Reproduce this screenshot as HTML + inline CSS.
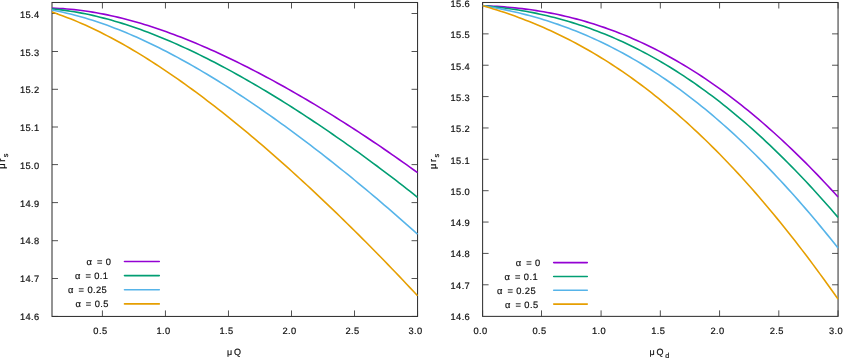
<!DOCTYPE html>
<html><head><meta charset="utf-8"><title>plot</title>
<style>
html,body{margin:0;padding:0;background:#fff;}
body{width:843px;height:358px;overflow:hidden;}
svg{display:block;will-change:transform;opacity:0.999;text-rendering:geometricPrecision;}
text{font-family:"Liberation Sans",sans-serif;fill:#111;}
.t{font-size:9.3px;letter-spacing:0.4px;stroke:#111;stroke-width:0.2px;}
.a{font-size:9px;}
.c{fill:none;stroke-width:1.6;stroke-linejoin:round;stroke-linecap:butt;}
.f{fill:none;stroke:#333;stroke-width:1.05;}
.k{fill:none;stroke:#222;stroke-width:0.78;}
</style></head><body>
<svg width="843" height="358" viewBox="0 0 843 358">

<path class="k" d="M102.42 316.45V310.45M102.42 2.50V8.50M165.45 316.45V310.45M165.45 2.50V8.50M228.47 316.45V310.45M228.47 2.50V8.50M291.50 316.45V310.45M291.50 2.50V8.50M354.52 316.45V310.45M354.52 2.50V8.50M417.55 316.45V310.45M417.55 2.50V8.50M52.00 316.45H58.00M417.55 316.45H411.55M52.00 278.50H58.00M417.55 278.50H411.55M52.00 240.70H58.00M417.55 240.70H411.55M52.00 202.60H58.00M417.55 202.60H411.55M52.00 164.60H58.00M417.55 164.60H411.55M52.00 127.00H58.00M417.55 127.00H411.55M52.00 89.30H58.00M417.55 89.30H411.55M52.00 51.50H58.00M417.55 51.50H411.55M52.00 13.50H58.00M417.55 13.50H411.55"/>
<rect class="f" x="52.00" y="2.50" width="365.55" height="313.95"/>
<path class="k" d="M482.60 316.38V310.38M482.60 2.50V8.50M541.50 316.38V310.38M541.50 2.50V8.50M601.08 316.38V310.38M601.08 2.50V8.50M660.33 316.38V310.38M660.33 2.50V8.50M719.57 316.38V310.38M719.57 2.50V8.50M778.81 316.38V310.38M778.81 2.50V8.50M838.05 316.38V310.38M838.05 2.50V8.50M482.60 284.79H488.60M838.05 284.79H832.05M482.60 253.42H488.60M838.05 253.42H832.05M482.60 222.05H488.60M838.05 222.05H832.05M482.60 190.69H488.60M838.05 190.69H832.05M482.60 159.32H488.60M838.05 159.32H832.05M482.60 127.96H488.60M838.05 127.96H832.05M482.60 96.59H488.60M838.05 96.59H832.05M482.60 65.23H488.60M838.05 65.23H832.05M482.60 33.86H488.60M838.05 33.86H832.05M482.60 2.50H488.60M838.05 2.50H832.05"/>
<rect class="f" x="482.60" y="2.50" width="355.45" height="313.88"/>
<clipPath id="c1"><rect x="52.00" y="2.50" width="366.15" height="313.95"/></clipPath>
<clipPath id="c2"><rect x="482.60" y="2.50" width="356.05" height="313.65"/></clipPath>
<g clip-path="url(#c1)">
<path class="c" stroke="#9400D3" d="M52.00 8.12L55.69 8.25L59.38 8.43L63.08 8.66L66.77 8.93L70.46 9.25L74.15 9.62L77.85 10.03L81.54 10.49L85.23 10.99L88.92 11.54L92.62 12.13L96.31 12.76L100.00 13.43L103.69 14.14L107.39 14.89L111.08 15.68L114.77 16.51L118.46 17.38L122.16 18.29L125.85 19.23L129.54 20.20L133.23 21.22L136.93 22.26L140.62 23.35L144.31 24.46L148.00 25.61L151.70 26.79L155.39 28.00L159.08 29.25L162.77 30.52L166.47 31.83L170.16 33.17L173.85 34.53L177.54 35.92L181.23 37.35L184.93 38.80L188.62 40.27L192.31 41.78L196.00 43.31L199.70 44.87L203.39 46.45L207.08 48.06L210.77 49.69L214.47 51.35L218.16 53.03L221.85 54.74L225.54 56.47L229.24 58.22L232.93 59.99L236.62 61.79L240.31 63.61L244.01 65.45L247.70 67.31L251.39 69.19L255.08 71.09L258.78 73.02L262.47 74.96L266.16 76.93L269.85 78.91L273.55 80.91L277.24 82.94L280.93 84.98L284.62 87.04L288.32 89.12L292.01 91.21L295.70 93.33L299.39 95.46L303.08 97.61L306.78 99.78L310.47 101.97L314.16 104.17L317.85 106.39L321.55 108.63L325.24 110.88L328.93 113.15L332.62 115.44L336.32 117.75L340.01 120.07L343.70 122.41L347.39 124.77L351.09 127.14L354.78 129.53L358.47 131.93L362.16 134.35L365.86 136.79L369.55 139.24L373.24 141.72L376.93 144.20L380.63 146.71L384.32 149.23L388.01 151.76L391.70 154.32L395.40 156.89L399.09 159.48L402.78 162.08L406.47 164.70L410.17 167.34L413.86 170.00L417.55 172.67"/>
<path class="c" stroke="#009E73" d="M52.00 8.92L55.69 9.27L59.38 9.67L63.08 10.12L66.77 10.62L70.46 11.17L74.15 11.76L77.85 12.40L81.54 13.09L85.23 13.82L88.92 14.59L92.62 15.40L96.31 16.26L100.00 17.16L103.69 18.10L107.39 19.08L111.08 20.10L114.77 21.16L118.46 22.26L122.16 23.39L125.85 24.56L129.54 25.77L133.23 27.02L136.93 28.30L140.62 29.61L144.31 30.96L148.00 32.34L151.70 33.75L155.39 35.20L159.08 36.68L162.77 38.18L166.47 39.72L170.16 41.29L173.85 42.89L177.54 44.52L181.23 46.18L184.93 47.87L188.62 49.58L192.31 51.32L196.00 53.09L199.70 54.88L203.39 56.71L207.08 58.55L210.77 60.42L214.47 62.32L218.16 64.24L221.85 66.18L225.54 68.15L229.24 70.14L232.93 72.16L236.62 74.20L240.31 76.26L244.01 78.34L247.70 80.44L251.39 82.57L255.08 84.71L258.78 86.88L262.47 89.07L266.16 91.27L269.85 93.50L273.55 95.75L277.24 98.01L280.93 100.30L284.62 102.61L288.32 104.93L292.01 107.27L295.70 109.63L299.39 112.01L303.08 114.41L306.78 116.83L310.47 119.26L314.16 121.71L317.85 124.18L321.55 126.67L325.24 129.17L328.93 131.69L332.62 134.23L336.32 136.79L340.01 139.36L343.70 141.95L347.39 144.55L351.09 147.18L354.78 149.82L358.47 152.47L362.16 155.15L365.86 157.84L369.55 160.54L373.24 163.27L376.93 166.01L380.63 168.77L384.32 171.54L388.01 174.33L391.70 177.14L395.40 179.97L399.09 182.81L402.78 185.67L406.47 188.55L410.17 191.45L413.86 194.36L417.55 197.29"/>
<path class="c" stroke="#56B4E9" d="M52.00 10.11L55.69 10.80L59.38 11.53L63.08 12.32L66.77 13.16L70.46 14.04L74.15 14.98L77.85 15.96L81.54 16.98L85.23 18.05L88.92 19.16L92.62 20.32L96.31 21.52L100.00 22.76L103.69 24.04L107.39 25.36L111.08 26.73L114.77 28.13L118.46 29.57L122.16 31.05L125.85 32.57L129.54 34.12L133.23 35.71L136.93 37.34L140.62 39.00L144.31 40.70L148.00 42.43L151.70 44.19L155.39 45.99L159.08 47.82L162.77 49.68L166.47 51.57L170.16 53.49L173.85 55.44L177.54 57.42L181.23 59.43L184.93 61.47L188.62 63.54L192.31 65.64L196.00 67.76L199.70 69.91L203.39 72.09L207.08 74.29L210.77 76.52L214.47 78.77L218.16 81.05L221.85 83.36L225.54 85.68L229.24 88.04L232.93 90.41L236.62 92.81L240.31 95.23L244.01 97.67L247.70 100.14L251.39 102.63L255.08 105.14L258.78 107.67L262.47 110.22L266.16 112.79L269.85 115.39L273.55 118.00L277.24 120.63L280.93 123.28L284.62 125.96L288.32 128.65L292.01 131.36L295.70 134.09L299.39 136.84L303.08 139.61L306.78 142.40L310.47 145.20L314.16 148.02L317.85 150.86L321.55 153.72L325.24 156.60L328.93 159.50L332.62 162.41L336.32 165.34L340.01 168.29L343.70 171.25L347.39 174.23L351.09 177.23L354.78 180.25L358.47 183.29L362.16 186.34L365.86 189.41L369.55 192.50L373.24 195.60L376.93 198.72L380.63 201.86L384.32 205.02L388.01 208.19L391.70 211.38L395.40 214.59L399.09 217.82L402.78 221.06L406.47 224.32L410.17 227.60L413.86 230.90L417.55 234.22"/>
<path class="c" stroke="#E69F00" d="M52.00 12.09L55.69 13.34L59.38 14.64L63.08 15.99L66.77 17.39L70.46 18.84L74.15 20.33L77.85 21.88L81.54 23.47L85.23 25.10L88.92 26.78L92.62 28.51L96.31 30.28L100.00 32.09L103.69 33.94L107.39 35.84L111.08 37.77L114.77 39.75L118.46 41.77L122.16 43.82L125.85 45.91L129.54 48.04L133.23 50.21L136.93 52.42L140.62 54.66L144.31 56.93L148.00 59.25L151.70 61.59L155.39 63.97L159.08 66.38L162.77 68.83L166.47 71.30L170.16 73.81L173.85 76.35L177.54 78.92L181.23 81.52L184.93 84.15L188.62 86.81L192.31 89.50L196.00 92.21L199.70 94.95L203.39 97.73L207.08 100.52L210.77 103.35L214.47 106.20L218.16 109.07L221.85 111.98L225.54 114.90L229.24 117.86L232.93 120.83L236.62 123.83L240.31 126.85L244.01 129.90L247.70 132.97L251.39 136.06L255.08 139.18L258.78 142.32L262.47 145.48L266.16 148.66L269.85 151.86L273.55 155.08L277.24 158.33L280.93 161.59L284.62 164.88L288.32 168.18L292.01 171.51L295.70 174.86L299.39 178.22L303.08 181.61L306.78 185.01L310.47 188.43L314.16 191.88L317.85 195.34L321.55 198.82L325.24 202.32L328.93 205.84L332.62 209.37L336.32 212.93L340.01 216.50L343.70 220.09L347.39 223.70L351.09 227.33L354.78 230.98L358.47 234.64L362.16 238.33L365.86 242.03L369.55 245.75L373.24 249.48L376.93 253.24L380.63 257.01L384.32 260.81L388.01 264.62L391.70 268.45L395.40 272.29L399.09 276.16L402.78 280.04L406.47 283.95L410.17 287.87L413.86 291.81L417.55 295.77"/>
</g><g clip-path="url(#c2)">
<path class="c" stroke="#9400D3" d="M482.60 5.76L486.19 5.88L489.78 6.03L493.37 6.20L496.96 6.40L500.55 6.63L504.14 6.89L507.73 7.18L511.32 7.50L514.91 7.85L518.50 8.24L522.09 8.65L525.68 9.09L529.28 9.57L532.87 10.08L536.46 10.62L540.05 11.19L543.64 11.80L547.23 12.45L550.82 13.12L554.41 13.84L558.00 14.58L561.59 15.37L565.18 16.18L568.77 17.04L572.36 17.93L575.95 18.86L579.54 19.82L583.13 20.82L586.72 21.86L590.31 22.94L593.90 24.05L597.49 25.21L601.08 26.40L604.67 27.63L608.26 28.90L611.85 30.21L615.44 31.56L619.04 32.95L622.63 34.38L626.22 35.85L629.81 37.36L633.40 38.91L636.99 40.50L640.58 42.13L644.17 43.81L647.76 45.52L651.35 47.28L654.94 49.08L658.53 50.91L662.12 52.80L665.71 54.72L669.30 56.68L672.89 58.69L676.48 60.74L680.07 62.83L683.66 64.97L687.25 67.15L690.84 69.37L694.43 71.63L698.02 73.93L701.61 76.28L705.21 78.67L708.80 81.11L712.39 83.58L715.98 86.10L719.57 88.66L723.16 91.27L726.75 93.92L730.34 96.61L733.93 99.34L737.52 102.12L741.11 104.94L744.70 107.80L748.29 110.71L751.88 113.66L755.47 116.65L759.06 119.68L762.65 122.76L766.24 125.87L769.83 129.03L773.42 132.24L777.01 135.48L780.60 138.77L784.19 142.10L787.78 145.47L791.37 148.88L794.97 152.33L798.56 155.83L802.15 159.36L805.74 162.94L809.33 166.56L812.92 170.21L816.51 173.91L820.10 177.65L823.69 181.43L827.28 185.25L830.87 189.11L834.46 193.01L838.05 196.94"/>
<path class="c" stroke="#009E73" d="M482.60 5.76L486.19 6.06L489.78 6.39L493.37 6.74L496.96 7.13L500.55 7.54L504.14 7.99L507.73 8.46L511.32 8.97L514.91 9.50L518.50 10.07L522.09 10.67L525.68 11.30L529.28 11.97L532.87 12.66L536.46 13.39L540.05 14.16L543.64 14.96L547.23 15.79L550.82 16.66L554.41 17.56L558.00 18.50L561.59 19.48L565.18 20.49L568.77 21.53L572.36 22.62L575.95 23.74L579.54 24.90L583.13 26.10L586.72 27.33L590.31 28.61L593.90 29.92L597.49 31.27L601.08 32.66L604.67 34.09L608.26 35.56L611.85 37.07L615.44 38.62L619.04 40.21L622.63 41.84L626.22 43.51L629.81 45.22L633.40 46.97L636.99 48.77L640.58 50.60L644.17 52.48L647.76 54.40L651.35 56.36L654.94 58.36L658.53 60.41L662.12 62.50L665.71 64.63L669.30 66.80L672.89 69.02L676.48 71.28L680.07 73.58L683.66 75.92L687.25 78.31L690.84 80.74L694.43 83.21L698.02 85.73L701.61 88.29L705.21 90.89L708.80 93.54L712.39 96.23L715.98 98.96L719.57 101.74L723.16 104.56L726.75 107.42L730.34 110.33L733.93 113.28L737.52 116.28L741.11 119.31L744.70 122.40L748.29 125.52L751.88 128.69L755.47 131.90L759.06 135.15L762.65 138.45L766.24 141.79L769.83 145.17L773.42 148.59L777.01 152.06L780.60 155.57L784.19 159.12L787.78 162.72L791.37 166.35L794.97 170.03L798.56 173.75L802.15 177.51L805.74 181.32L809.33 185.16L812.92 189.05L816.51 192.98L820.10 196.94L823.69 200.95L827.28 205.00L830.87 209.09L834.46 213.22L838.05 217.39"/>
<path class="c" stroke="#56B4E9" d="M482.60 5.75L486.19 6.32L489.78 6.92L493.37 7.56L496.96 8.22L500.55 8.91L504.14 9.63L507.73 10.38L511.32 11.16L514.91 11.98L518.50 12.82L522.09 13.70L525.68 14.62L529.28 15.56L532.87 16.54L536.46 17.56L540.05 18.60L543.64 19.69L547.23 20.81L550.82 21.96L554.41 23.15L558.00 24.38L561.59 25.64L565.18 26.94L568.77 28.28L572.36 29.65L575.95 31.07L579.54 32.52L583.13 34.01L586.72 35.54L590.31 37.11L593.90 38.72L597.49 40.36L601.08 42.05L604.67 43.78L608.26 45.55L611.85 47.35L615.44 49.20L619.04 51.09L622.63 53.03L626.22 55.00L629.81 57.01L633.40 59.07L636.99 61.17L640.58 63.31L644.17 65.49L647.76 67.72L651.35 69.99L654.94 72.30L658.53 74.65L662.12 77.05L665.71 79.49L669.30 81.98L672.89 84.50L676.48 87.08L680.07 89.69L683.66 92.35L687.25 95.05L690.84 97.80L694.43 100.59L698.02 103.42L701.61 106.30L705.21 109.22L708.80 112.19L712.39 115.20L715.98 118.26L719.57 121.35L723.16 124.50L726.75 127.69L730.34 130.92L733.93 134.19L737.52 137.51L741.11 140.88L744.70 144.28L748.29 147.74L751.88 151.23L755.47 154.77L759.06 158.36L762.65 161.98L766.24 165.66L769.83 169.37L773.42 173.13L777.01 176.93L780.60 180.77L784.19 184.66L787.78 188.59L791.37 192.57L794.97 196.58L798.56 200.64L802.15 204.74L805.74 208.89L809.33 213.07L812.92 217.30L816.51 221.57L820.10 225.88L823.69 230.23L827.28 234.63L830.87 239.06L834.46 243.54L838.05 248.05"/>
<path class="c" stroke="#E69F00" d="M482.60 5.74L486.19 6.76L489.78 7.82L493.37 8.91L496.96 10.03L500.55 11.18L504.14 12.36L507.73 13.57L511.32 14.82L514.91 16.10L518.50 17.41L522.09 18.76L525.68 20.14L529.28 21.55L532.87 23.00L536.46 24.49L540.05 26.01L543.64 27.57L547.23 29.17L550.82 30.80L554.41 32.47L558.00 34.17L561.59 35.92L565.18 37.70L568.77 39.52L572.36 41.38L575.95 43.28L579.54 45.22L583.13 47.20L586.72 49.22L590.31 51.28L593.90 53.38L597.49 55.52L601.08 57.70L604.67 59.92L608.26 62.19L611.85 64.50L615.44 66.84L619.04 69.24L622.63 71.67L626.22 74.15L629.81 76.67L633.40 79.23L636.99 81.84L640.58 84.49L644.17 87.18L647.76 89.92L651.35 92.70L654.94 95.52L658.53 98.39L662.12 101.31L665.71 104.27L669.30 107.27L672.89 110.32L676.48 113.41L680.07 116.55L683.66 119.73L687.25 122.96L690.84 126.23L694.43 129.55L698.02 132.91L701.61 136.32L705.21 139.77L708.80 143.27L712.39 146.82L715.98 150.41L719.57 154.04L723.16 157.73L726.75 161.45L730.34 165.22L733.93 169.04L737.52 172.90L741.11 176.81L744.70 180.77L748.29 184.77L751.88 188.81L755.47 192.90L759.06 197.03L762.65 201.21L766.24 205.44L769.83 209.71L773.42 214.02L777.01 218.38L780.60 222.78L784.19 227.23L787.78 231.72L791.37 236.26L794.97 240.84L798.56 245.46L802.15 250.13L805.74 254.84L809.33 259.59L812.92 264.39L816.51 269.23L820.10 274.11L823.69 279.04L827.28 284.01L830.87 289.02L834.46 294.07L838.05 299.16"/>
</g>
<text class="t" x="100.42" y="334.1" text-anchor="middle">0.5</text>
<text class="t" x="163.45" y="334.1" text-anchor="middle">1.0</text>
<text class="t" x="226.47" y="334.1" text-anchor="middle">1.5</text>
<text class="t" x="289.50" y="334.1" text-anchor="middle">2.0</text>
<text class="t" x="352.52" y="334.1" text-anchor="middle">2.5</text>
<text class="t" x="415.55" y="334.1" text-anchor="middle">3.0</text>
<text class="t" x="39.6" y="320.00" text-anchor="end">14.6</text>
<text class="t" x="39.6" y="282.23" text-anchor="end">14.7</text>
<text class="t" x="39.6" y="244.45" text-anchor="end">14.8</text>
<text class="t" x="39.6" y="206.68" text-anchor="end">14.9</text>
<text class="t" x="39.6" y="168.90" text-anchor="end">15.0</text>
<text class="t" x="39.6" y="131.12" text-anchor="end">15.1</text>
<text class="t" x="39.6" y="93.35" text-anchor="end">15.2</text>
<text class="t" x="39.6" y="55.58" text-anchor="end">15.3</text>
<text class="t" x="39.6" y="17.80" text-anchor="end">15.4</text>
<text class="t" x="480.60" y="334.1" text-anchor="middle">0.0</text>
<text class="t" x="539.50" y="334.1" text-anchor="middle">0.5</text>
<text class="t" x="599.08" y="334.1" text-anchor="middle">1.0</text>
<text class="t" x="658.33" y="334.1" text-anchor="middle">1.5</text>
<text class="t" x="717.57" y="334.1" text-anchor="middle">2.0</text>
<text class="t" x="776.81" y="334.1" text-anchor="middle">2.5</text>
<text class="t" x="836.05" y="334.1" text-anchor="middle">3.0</text>
<text class="t" x="470.2" y="319.85" text-anchor="end">14.6</text>
<text class="t" x="470.2" y="288.58" text-anchor="end">14.7</text>
<text class="t" x="470.2" y="257.31" text-anchor="end">14.8</text>
<text class="t" x="470.2" y="226.04" text-anchor="end">14.9</text>
<text class="t" x="470.2" y="194.77" text-anchor="end">15.0</text>
<text class="t" x="470.2" y="163.50" text-anchor="end">15.1</text>
<text class="t" x="470.2" y="132.23" text-anchor="end">15.2</text>
<text class="t" x="470.2" y="100.96" text-anchor="end">15.3</text>
<text class="t" x="470.2" y="69.69" text-anchor="end">15.4</text>
<text class="t" x="470.2" y="38.42" text-anchor="end">15.5</text>
<text class="t" x="470.2" y="7.15" text-anchor="end">15.6</text>
<text class="t" x="111.30" y="264.95" text-anchor="end" xml:space="preserve">α<tspan dx="1.7"> = 0</tspan></text>
<path class="c" style="stroke-linecap:round" stroke="#9400D3" d="M124.50 261.50H159.30"/>
<text class="t" x="108.40" y="279.05" text-anchor="end" xml:space="preserve">α<tspan dx="1.7"> = 0.1</tspan></text>
<path class="c" style="stroke-linecap:round" stroke="#009E73" d="M124.50 275.60H159.30"/>
<text class="t" x="107.10" y="293.25" text-anchor="end" xml:space="preserve">α<tspan dx="1.7"> = 0.25</tspan></text>
<path class="c" style="stroke-linecap:round" stroke="#56B4E9" d="M124.50 289.80H159.30"/>
<text class="t" x="108.80" y="307.35" text-anchor="end" xml:space="preserve">α<tspan dx="1.7"> = 0.5</tspan></text>
<path class="c" style="stroke-linecap:round" stroke="#E69F00" d="M124.50 303.90H159.30"/>
<text class="t" x="540.70" y="266.05" text-anchor="end" xml:space="preserve">α<tspan dx="1.7"> = 0</tspan></text>
<path class="c" style="stroke-linecap:round" stroke="#9400D3" d="M553.70 262.60H587.30"/>
<text class="t" x="538.00" y="279.95" text-anchor="end" xml:space="preserve">α<tspan dx="1.7"> = 0.1</tspan></text>
<path class="c" style="stroke-linecap:round" stroke="#009E73" d="M553.70 276.50H587.30"/>
<text class="t" x="536.00" y="293.75" text-anchor="end" xml:space="preserve">α<tspan dx="1.7"> = 0.25</tspan></text>
<path class="c" style="stroke-linecap:round" stroke="#56B4E9" d="M553.70 290.30H587.30"/>
<text class="t" x="538.50" y="307.55" text-anchor="end" xml:space="preserve">α<tspan dx="1.7"> = 0.5</tspan></text>
<path class="c" style="stroke-linecap:round" stroke="#E69F00" d="M553.70 304.10H587.30"/>
<text class="t a" x="227.0" y="355.2">μ<tspan dx="1.3">Q</tspan></text>
<text class="t a" x="649.6" y="354.9">μ<tspan dx="1.3">Q</tspan><tspan font-size="7.2" dx="1.4" dy="2.6">d</tspan></text>
<text class="t" transform="translate(5.4,168.7) rotate(-90)" >μ<tspan dx="1.2">r</tspan><tspan font-size="7.4" dx="1.0" dy="2.4">s</tspan></text>
<text class="t" transform="translate(436.4,168.9) rotate(-90)" >μ<tspan dx="1.2">r</tspan><tspan font-size="7.4" dx="1.0" dy="2.4">s</tspan></text>
</svg></body></html>
